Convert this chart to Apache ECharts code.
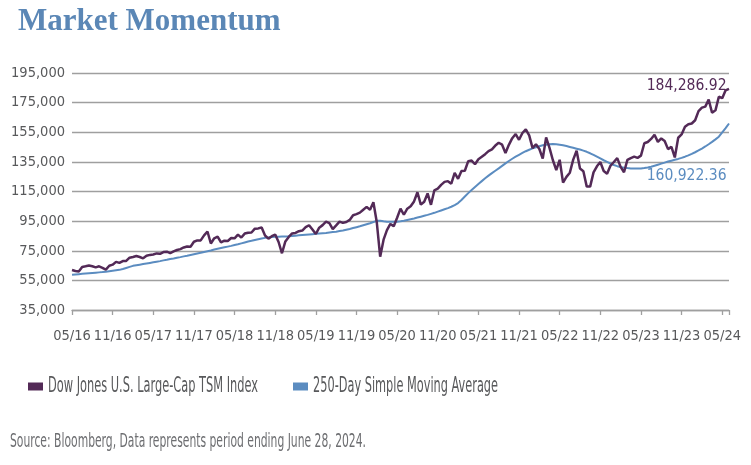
<!DOCTYPE html>
<html><head><meta charset="utf-8">
<script src="https://cdn.jsdelivr.net/npm/echarts@6/dist/echarts.min.js"></script>
<style>html,body{margin:0;padding:0;background:#fff}#c{width:751px;height:465px}</style>
</head><body><div id="c"></div>
<script>
const titleText = 'Market Momentum';
const sourceText = 'Source: Bloomberg, Data represents period ending June 28, 2024.';
const seriesNames = ['Dow Jones U.S. Large-Cap TSM Index', '250-Day Simple Moving Average'];
const tickLabels = ['05/16','11/16','05/17','11/17','05/18','11/18','05/19','11/19','05/20','11/20','05/21','11/21','05/22','11/22','05/23','11/23','05/24'];
const yMin = 35000, yMax = 195000, yStep = 20000;

// half-month observations, end of May 2016 .. June 28, 2024
const indexValues = [
62000,61300,61000,64100,64500,65000,64500,63800,64500,63500,62300,64900,
65600,67500,66800,68000,68100,70300,70800,71500,70800,69900,71600,72200,
72500,73200,72900,74100,74400,73400,74600,75500,76100,77200,77900,77700,
81100,82000,82000,85400,88000,79900,83400,84500,80600,81800,81600,83600,
83400,85900,83900,86600,87200,87300,89900,90100,90700,85300,83200,84800,
85900,80900,73300,81300,84300,86700,87000,88200,88600,90900,92200,89300,
86300,90600,92300,94600,93600,89600,92100,94700,93800,94400,95800,99000,
99700,100700,102700,104600,102700,107700,94200,71000,82500,88900,93100,91600,
97300,103400,99300,103400,105000,108300,114500,106100,108100,113700,106000,115800,
117000,119500,121500,122000,120300,127500,123600,128800,129000,135500,135900,133400,
136800,138400,140200,142300,143500,146000,147900,146600,141000,146500,151000,153800,
149900,154500,157000,152900,144300,146900,143700,137200,151500,144500,136100,129500,
136400,121000,124900,127700,136500,142500,130500,128700,118300,118300,127900,132000,
134900,128800,127000,132400,134900,137500,131600,128000,136400,137600,138600,137700,
139200,147600,148400,150500,153300,148500,150800,149100,143600,145200,138000,151300,
153500,158700,160400,160900,163100,169300,171600,172300,177000,168200,169800,179000,
178000,183300,184286.92
];
const smaValues = [
58800,59000,59200,59400,59600,59800,60000,60200,60400,60600,60900,61200,
61500,61800,62100,62700,63400,64100,64800,65200,65600,66000,66400,66800,
67200,67600,68000,68500,68900,69400,69800,70300,70700,71200,71600,72100,
72600,73100,73600,74200,74700,75200,75800,76300,76800,77300,77800,78300,
78900,79400,80000,80600,81200,81700,82300,82800,83300,83700,84000,84200,
84400,84500,84600,84700,84800,85000,85200,85400,85600,85800,86000,86200,
86400,86600,86800,87000,87300,87600,87900,88300,88700,89200,89700,90300,
90900,91500,92200,92900,93600,94400,95200,95300,94900,94600,94500,94500,
94600,94900,95300,95800,96300,96800,97400,98000,98600,99200,99900,100600,
101400,102200,103000,103800,104700,105800,107200,109300,111600,113900,116000,118100,
120100,122000,123900,125700,127400,129000,130600,132300,134000,135600,137100,138500,
139800,141000,142200,143200,144100,144900,145600,146200,146600,146900,147000,146900,
146600,146200,145700,145100,144500,143900,143300,142600,141800,140800,139700,138500,
137300,136100,135000,133900,132900,132100,131500,131100,130800,130600,130500,130500,
130600,130800,131200,131700,132400,133100,133800,134500,135200,135800,136400,137000,
137700,138500,139400,140400,141500,142700,144000,145400,146900,148500,150200,152000,
154900,157800,160922.36
];
const periods = indexValues.map((_, i) => i);
const perTick = 12;

const FONT = "'DejaVu Sans Condensed','Liberation Sans',sans-serif";
const PURPLE = '#532a57', BLUE = '#5b8cc0', GRID = '#9f9f9f', TXT = '#58595b';
const fmt2 = v => v.toLocaleString('en-US', {minimumFractionDigits: 2, maximumFractionDigits: 2});
const lastI = periods.length - 1;

// condensed text helper: fit a text run into a given width
const mctx = document.createElement('canvas').getContext('2d');
function fitScale(text, size, width) {
  mctx.font = size + "px 'DejaVu Sans Condensed'";
  return width / mctx.measureText(text).width;
}
function condText(text, x, y, size, width, color) {
  return {type: 'text', x: x, y: y, scaleX: fitScale(text, size, width), scaleY: 1,
    style: {text: text, fontFamily: "'DejaVu Sans Condensed'", fontSize: size, fill: color, verticalAlign: 'middle', align: 'left'}};
}

const chart = echarts.init(document.getElementById('c'), null, {renderer: 'canvas'});
chart.setOption({
  animation: false,
  backgroundColor: '#fff',
  title: {text: titleText, left: 13, top: 1,
    textStyle: {fontFamily: "'Liberation Serif',serif", fontWeight: 'bold', fontSize: 31, color: '#5b87b6'}},
  grid: {left: 72, right: 22, top: 73, bottom: 155},
  graphic: [
    {type: 'rect', shape: {x: 28, y: 382.5, width: 15, height: 8}, style: {fill: PURPLE}},
    condText(seriesNames[0], 48, 386, 22, 210, TXT),
    {type: 'rect', shape: {x: 293, y: 382.5, width: 15, height: 8}, style: {fill: BLUE}},
    condText(seriesNames[1], 313, 386, 22, 185, TXT),
    condText(sourceText, 10, 442, 19.5, 356, '#6d6e71')
  ],
  xAxis: {type: 'category', data: periods, boundaryGap: false,
    axisLine: {lineStyle: {color: GRID, width: 1.3}},
    axisTick: {interval: perTick - 1, length: 5, lineStyle: {color: GRID, width: 1.3}},
    axisLabel: {interval: perTick - 1, margin: 19, color: TXT, fontFamily: FONT, fontSize: 14.5,
      showMinLabel: true, showMaxLabel: true,
      formatter: (v, idx) => (idx % perTick === 0 ? tickLabels[idx / perTick] : '')},
    splitLine: {show: false}},
  yAxis: {type: 'value', min: yMin, max: yMax, interval: yStep,
    axisLine: {show: false}, axisTick: {show: false},
    axisLabel: {margin: 7, color: TXT, fontFamily: FONT, fontSize: 14.5, formatter: v => v.toLocaleString('en-US')},
    splitLine: {lineStyle: {color: GRID, width: 1.3}}},
  series: [
    {name: seriesNames[1], type: 'line', data: smaValues, showSymbol: false, symbol: 'none',
     lineStyle: {color: BLUE, width: 2}, itemStyle: {color: BLUE}, z: 2,
     markPoint: {symbol: 'circle', symbolSize: 1, itemStyle: {color: 'rgba(0,0,0,0)'},
       label: {show: true, position: 'left', distance: 2, offset: [0, 52], color: BLUE, fontFamily: FONT, fontSize: 15.5,
         formatter: p => fmt2(p.value)},
       data: [{coord: [lastI, smaValues[lastI]], value: smaValues[lastI]}]}},
    {name: seriesNames[0], type: 'line', data: indexValues, showSymbol: false, symbol: 'none',
     lineStyle: {color: PURPLE, width: 2.5}, itemStyle: {color: PURPLE}, z: 3,
     markPoint: {symbol: 'circle', symbolSize: 1, itemStyle: {color: 'rgba(0,0,0,0)'},
       label: {show: true, position: 'left', distance: 2, offset: [0, -3], color: PURPLE, fontFamily: FONT, fontSize: 15.5,
         formatter: p => fmt2(p.value)},
       data: [{coord: [lastI, indexValues[lastI]], value: indexValues[lastI]}]}}
  ]
});
</script></body></html>
